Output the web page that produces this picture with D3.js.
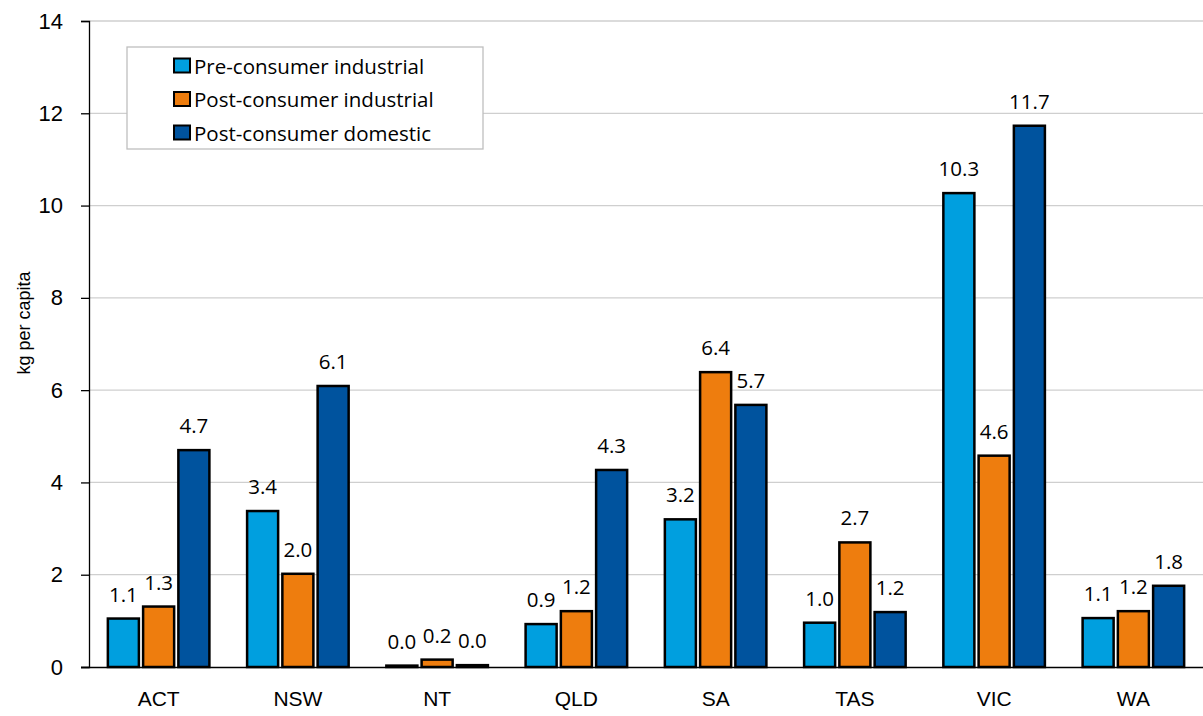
<!DOCTYPE html>
<html>
<head>
<meta charset="utf-8">
<script src="https://cdn.jsdelivr.net/npm/d3@7"></script>
<style>
  html, body { margin: 0; padding: 0; background: #fff; }
  svg { display: block; font-family: "Open Sans", sans-serif; }
</style>
</head>
<body>
<svg id="chart" width="1203" height="716"></svg>
<script>
// States and territories along the x axis
const states = ["ACT", "NSW", "NT", "QLD", "SA", "TAS", "VIC", "WA"];

// Series names and values (kg per capita)
const seriesNames = ["Pre-consumer industrial", "Post-consumer industrial", "Post-consumer domestic"];
const preConsumerIndustrial  = [1.05, 3.38, 0.03, 0.93, 3.20, 0.96, 10.27, 1.06];
const postConsumerIndustrial = [1.31, 2.02, 0.16, 1.21, 6.39, 2.70, 4.58, 1.21];
const postConsumerDomestic   = [4.70, 6.09, 0.04, 4.27, 5.68, 1.19, 11.73, 1.76];

const yTicks = [0, 2, 4, 6, 8, 10, 12, 14];
const colors = ["#009FDF", "#EE7D0E", "#00539E"];

const seriesValues = [preConsumerIndustrial, postConsumerIndustrial, postConsumerDomestic];

const svg = d3.select("#chart");
const margin = { left: 89, right: 0, top: 21, bottom: 49 };
const W = 1203, H = 716;

const x = d3.scaleBand()
  .domain(states)
  .range([margin.left, W - margin.right])
  .paddingInner(0.21)
  .paddingOuter(0.105);

const x1 = d3.scaleBand()
  .domain(d3.range(seriesNames.length))
  .range([0, x.bandwidth()])
  .padding(0.12);

const y = d3.scaleLinear().domain([0, 14]).range([H - margin.bottom, margin.top]);

// horizontal gridlines
svg.append("g")
  .selectAll("line")
  .data(yTicks.filter(d => d > 0))
  .join("line")
  .attr("x1", margin.left).attr("x2", W - margin.right)
  .attr("y1", d => y(d)).attr("y2", d => y(d))
  .attr("stroke", "#cfcfcf").attr("stroke-width", 1.3);

// y axis
const yAxis = svg.append("g")
  .attr("transform", `translate(${margin.left},0)`)
  .call(d3.axisLeft(y).tickValues(yTicks).tickSize(8).tickPadding(18).tickFormat(d3.format("d")));
yAxis.select(".domain").attr("stroke", "#000").attr("stroke-width", 1.3);
yAxis.selectAll(".tick line").attr("stroke", "#000").attr("stroke-width", 1.3);
yAxis.selectAll(".tick text")
  .attr("font-family", null)
  .attr("font-size", 22).attr("fill", "#000");

// y axis title
svg.append("text")
  .attr("transform", "translate(24,323) rotate(-90)")
  .attr("text-anchor", "middle")
  .attr("dominant-baseline", "central")
  .attr("font-family", "'Liberation Sans', Arial, sans-serif")
  .attr("font-size", 18)
  .attr("fill", "#000")
  .text("kg per capita");

// bars
const groups = svg.append("g")
  .selectAll("g")
  .data(states)
  .join("g")
  .attr("transform", d => `translate(${x(d)},0)`);

const barData = (state, i) => seriesValues.map((vals, s) => ({ s, v: vals[i] }));

groups.selectAll("rect")
  .data((d, i) => barData(d, i))
  .join("rect")
  .attr("x", d => x1(d.s))
  .attr("width", x1.bandwidth())
  .attr("y", d => y(d.v))
  .attr("height", d => y(0) - y(d.v))
  .attr("fill", d => colors[d.s])
  .attr("stroke", "#000")
  .attr("stroke-width", 2.5);

// value labels
groups.selectAll("text.val")
  .data((d, i) => barData(d, i))
  .join("text")
  .attr("class", "val")
  .attr("x", d => x1(d.s) + x1.bandwidth() / 2)
  .attr("y", d => y(d.v) - 17)
  .attr("text-anchor", "middle")
  .attr("font-size", 20.5)
  .attr("fill", "#000")
  .text(d => d.v.toFixed(1));

// x axis
const xAxis = svg.append("g")
  .attr("transform", `translate(0,${y(0)})`)
  .call(d3.axisBottom(x).tickSize(0).tickPadding(24).tickSizeOuter(0));
xAxis.select(".domain").attr("stroke", "#000").attr("stroke-width", 1.3)
  .attr("d", `M${margin.left - 8},0.5H${W - margin.right}`);
xAxis.selectAll(".tick text")
  .attr("font-family", null)
  .attr("font-size", 21).attr("fill", "#000");

// legend
const legend = svg.append("g").attr("transform", "translate(127,47)");
legend.append("rect")
  .attr("width", 356).attr("height", 102)
  .attr("fill", "#fff").attr("stroke", "#bfbfbf").attr("stroke-width", 1.3);
const items = legend.selectAll("g.item")
  .data(seriesNames)
  .join("g")
  .attr("class", "item")
  .attr("transform", (d, i) => `translate(47,${18.5 + i * 33.5})`);
items.append("rect")
  .attr("x", 0).attr("y", -7).attr("width", 16).attr("height", 14)
  .attr("fill", (d, i) => colors[i])
  .attr("stroke", "#000").attr("stroke-width", 2);
items.append("text")
  .attr("x", 20).attr("y", 0)
  .attr("dominant-baseline", "central")
  .attr("font-size", 20.5)
  .attr("fill", "#000")
  .text(d => d);
</script>
</body>
</html>
